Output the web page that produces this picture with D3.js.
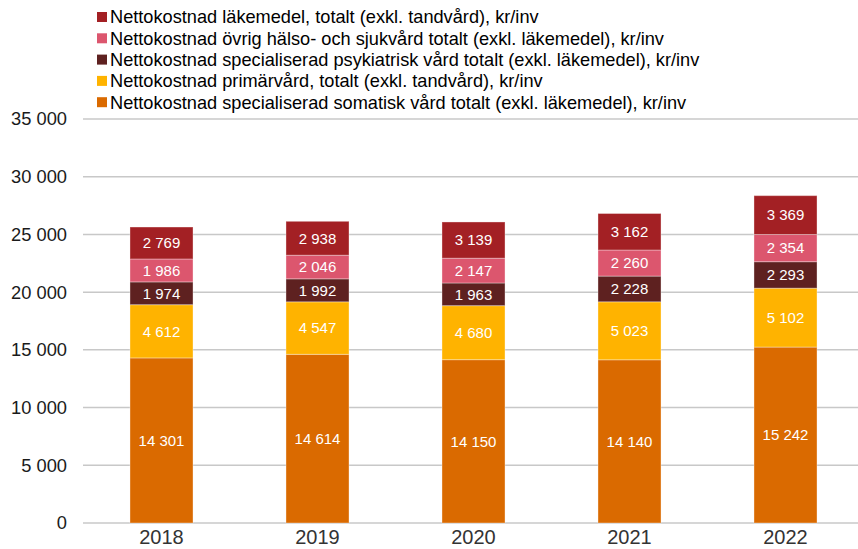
<!DOCTYPE html>
<html>
<head>
<meta charset="utf-8">
<script src="https://cdn.jsdelivr.net/npm/d3@7"></script>
<style>
  body { margin: 0; background: #fff; }
  text { font-family: "Liberation Sans", Arial, sans-serif; }
</style>
</head>
<body>
<div id="chart"></div>
<script>
// chart data
const years = ["2018", "2019", "2020", "2021", "2022"];
const seriesNames = [
  "Nettokostnad specialiserad somatisk vård totalt (exkl. läkemedel), kr/inv",
  "Nettokostnad primärvård, totalt (exkl. tandvård), kr/inv",
  "Nettokostnad specialiserad psykiatrisk vård totalt (exkl. läkemedel), kr/inv",
  "Nettokostnad övrig hälso- och sjukvård totalt (exkl. läkemedel), kr/inv",
  "Nettokostnad läkemedel, totalt (exkl. tandvård), kr/inv"
];
const somatisk = [14301, 14614, 14150, 14140, 15242];
const primarvard = [4612, 4547, 4680, 5023, 5102];
const psykiatri = [1974, 1992, 1963, 2228, 2293];
const ovrig = [1986, 2046, 2147, 2260, 2354];
const lakemedel = [2769, 2938, 3139, 3162, 3369];
const colors = ["#DA6A00", "#FFB300", "#5E2120", "#DC566E", "#A32024"];
const yTicks = [0, 5000, 10000, 15000, 20000, 25000, 30000, 35000];

const seriesValues = [somatisk, primarvard, psykiatri, ovrig, lakemedel];
const rows = years.map((y, i) => {
  const r = { year: y };
  seriesValues.forEach((s, k) => r["s" + k] = s[i]);
  return r;
});
const keys = seriesValues.map((s, k) => "s" + k);
const stacked = d3.stack().keys(keys)(rows);

const fmt = d3.formatLocale({ decimal: ",", thousands: " ", grouping: [3], currency: ["", ""] }).format(",d");

const width = 858, height = 549;
const svg = d3.select("#chart").append("svg")
  .attr("width", width)
  .attr("height", height);

const x = d3.scaleBand()
  .domain(years)
  .range([83.5, 863.5])
  .paddingInner(0.596)
  .paddingOuter(0.298);

const y = d3.scaleLinear()
  .domain([0, 35000])
  .range([523, 119]);

// gridlines
svg.append("g")
  .selectAll("line")
  .data(yTicks)
  .enter()
  .append("line")
  .attr("x1", 83)
  .attr("x2", 858)
  .attr("y1", d => y(d))
  .attr("y2", d => y(d))
  .attr("stroke", "#c8c8c8")
  .attr("stroke-width", 1.5);

// y labels
svg.append("g")
  .selectAll("text")
  .data(yTicks)
  .enter()
  .append("text")
  .attr("x", 67)
  .attr("y", d => y(d))
  .attr("dy", "0.35em")
  .attr("text-anchor", "end")
  .attr("font-size", 18.3)
  .attr("fill", "#1a1a1a")
  .text(d => fmt(d));

// x labels
svg.append("g")
  .selectAll("text")
  .data(years)
  .enter()
  .append("text")
  .attr("x", d => x(d) + x.bandwidth() / 2)
  .attr("y", 544)
  .attr("text-anchor", "middle")
  .attr("font-size", 20)
  .attr("fill", "#333")
  .text(d => d);

// bars
const layers = svg.append("g")
  .selectAll("g")
  .data(stacked)
  .enter()
  .append("g")
  .attr("fill", (d, i) => colors[i]);

layers.selectAll("rect")
  .data(d => d)
  .enter()
  .append("rect")
  .attr("x", d => x(d.data.year))
  .attr("y", d => y(d[1]))
  .attr("width", x.bandwidth())
  .attr("height", d => y(d[0]) - y(d[1]))
  .attr("stroke", "#fff")
  .attr("stroke-opacity", 0.35)
  .attr("stroke-width", 1);

layers.selectAll("text")
  .data((d, i) => d.map(p => ({ p: p, v: seriesValues[i][d.indexOf(p)] })))
  .enter()
  .append("text")
  .attr("x", d => x(d.p.data.year) + x.bandwidth() / 2)
  .attr("y", d => (y(d.p[0]) + y(d.p[1])) / 2)
  .attr("dy", "0.35em")
  .attr("text-anchor", "middle")
  .attr("font-size", 15)
  .attr("fill", "#fff")
  .text(d => fmt(d.v));

// legend, top entry is the last series
const legendOrder = seriesNames.map((n, i) => ({ name: n, color: colors[i] })).reverse();
const legend = svg.append("g")
  .selectAll("g")
  .data(legendOrder)
  .enter()
  .append("g")
  .attr("transform", (d, i) => `translate(97,${17 + i * 21.3})`);

legend.append("rect")
  .attr("x", 0)
  .attr("y", -5)
  .attr("width", 10)
  .attr("height", 10)
  .attr("fill", d => d.color);

legend.append("text")
  .attr("x", 13)
  .attr("y", 0)
  .attr("dy", "0.35em")
  .attr("font-size", 18.2)
  .attr("fill", "#000")
  .text(d => d.name);
</script>
</body>
</html>
